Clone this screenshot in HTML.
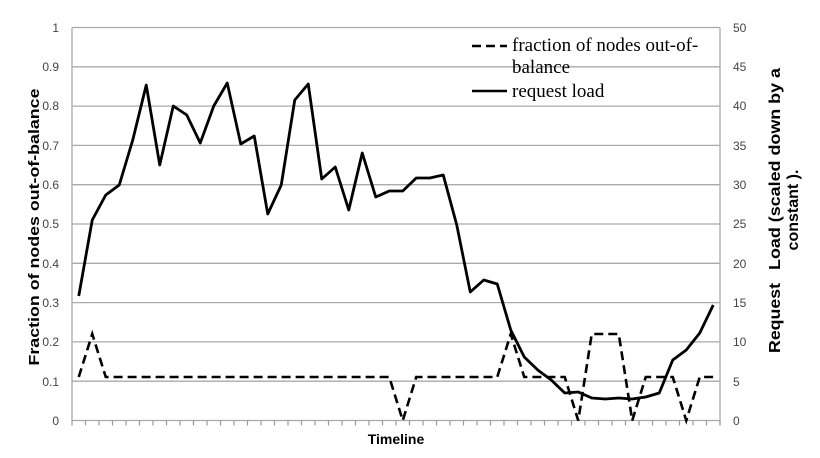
<!DOCTYPE html>
<html><head><meta charset="utf-8"><style>body{margin:0;background:#fff}</style></head><body>
<svg width="820" height="453" xmlns="http://www.w3.org/2000/svg" font-family="Liberation Sans, sans-serif">
<rect width="820" height="453" fill="#fff"/>
<g stroke="#aaa" stroke-width="1.3">
<line x1="72" y1="27.5" x2="720" y2="27.5"/><line x1="72" y1="66.8" x2="720" y2="66.8"/><line x1="72" y1="106.1" x2="720" y2="106.1"/><line x1="72" y1="145.4" x2="720" y2="145.4"/><line x1="72" y1="184.7" x2="720" y2="184.7"/><line x1="72" y1="224" x2="720" y2="224"/><line x1="72" y1="263.3" x2="720" y2="263.3"/><line x1="72" y1="302.6" x2="720" y2="302.6"/><line x1="72" y1="341.9" x2="720" y2="341.9"/><line x1="72" y1="381.2" x2="720" y2="381.2"/>
<line x1="72" y1="27.5" x2="72" y2="421"/><line x1="720" y1="27.5" x2="720" y2="425"/><line x1="72" y1="420.5" x2="720" y2="420.5"/>
</g>
<path stroke="#999" stroke-width="1.2" fill="none" d="M72 420.5v5M85.5 420.5v5M99 420.5v5M112.5 420.5v5M126 420.5v5M139.5 420.5v5M153 420.5v5M166.5 420.5v5M180 420.5v5M193.5 420.5v5M207 420.5v5M220.5 420.5v5M234 420.5v5M247.5 420.5v5M261 420.5v5M274.5 420.5v5M288 420.5v5M301.5 420.5v5M315 420.5v5M328.5 420.5v5M342 420.5v5M355.5 420.5v5M369 420.5v5M382.5 420.5v5M396 420.5v5M409.5 420.5v5M423 420.5v5M436.5 420.5v5M450 420.5v5M463.5 420.5v5M477 420.5v5M490.5 420.5v5M504 420.5v5M517.5 420.5v5M531 420.5v5M544.5 420.5v5M558 420.5v5M571.5 420.5v5M585 420.5v5M598.5 420.5v5M612 420.5v5M625.5 420.5v5M639 420.5v5M652.5 420.5v5M666 420.5v5M679.5 420.5v5M693 420.5v5M706.5 420.5v5M720 420.5v5"/>
<g fill="#444" font-size="12" text-anchor="end">
<text x="59" y="32">1</text><text x="59" y="71">0.9</text><text x="59" y="110">0.8</text><text x="59" y="150">0.7</text><text x="59" y="189">0.6</text><text x="59" y="228">0.5</text><text x="59" y="268">0.4</text><text x="59" y="307">0.3</text><text x="59" y="346">0.2</text><text x="59" y="386">0.1</text><text x="59" y="425">0</text>
</g>
<g fill="#444" font-size="12">
<text x="733" y="32">50</text><text x="733" y="71">45</text><text x="733" y="110">40</text><text x="733" y="150">35</text><text x="733" y="189">30</text><text x="733" y="228">25</text><text x="733" y="268">20</text><text x="733" y="307">15</text><text x="733" y="346">10</text><text x="733" y="386">5</text><text x="733" y="425">0</text>
</g>
<text transform="translate(39,227) rotate(-90)" text-anchor="middle" font-size="15" font-weight="bold" textLength="277" lengthAdjust="spacingAndGlyphs">Fraction of nodes out-of-balance</text>
<text transform="translate(780,353) rotate(-90)" font-size="16" font-weight="bold" textLength="70" lengthAdjust="spacingAndGlyphs">Request</text>
<text transform="translate(780,270) rotate(-90)" font-size="16" font-weight="bold" textLength="202" lengthAdjust="spacingAndGlyphs">Load (scaled down by a</text>
<text transform="translate(798,210) rotate(-90)" text-anchor="middle" font-size="16" font-weight="bold">constant ).</text>
<text x="396" y="444" text-anchor="middle" font-size="14" font-weight="bold">Timeline</text>
<g font-family="Liberation Serif, serif" font-size="19">
<text x="512" y="51">fraction of nodes out-of-</text><text x="512" y="73">balance</text><text x="512" y="97">request load</text>
</g>
<line x1="472" y1="46" x2="507" y2="46" stroke="#000" stroke-width="2.5" stroke-dasharray="9,5"/>
<line x1="472" y1="91" x2="507" y2="91" stroke="#000" stroke-width="2.5"/>
<polyline fill="none" stroke="#000" stroke-width="2.8" stroke-linejoin="round" points="78.75,296 92.25,220 105.75,195 119.25,185 132.75,140 146.25,85 159.75,165 173.25,106 186.75,115 200.25,143 213.75,106 227.25,83 240.75,144 254.25,136 267.75,214 281.25,185 294.75,100 308.25,84 321.75,179 335.25,167 348.75,210 362.25,153 375.75,197 389.25,191 402.75,191 416.25,178 429.75,178 443.25,175 456.75,225 470.25,292 483.75,280 497.25,284 510.75,330 524.25,357 537.75,370 551.25,380 564.75,393 578.25,392 591.75,398 605.25,399 618.75,398 632.25,399 645.75,397 659.25,393 672.75,360 686.25,350 699.75,333 713.25,305"/>
<polyline fill="none" stroke="#000" stroke-width="2.6" stroke-dasharray="9,5" points="78.75,377 92.25,334 105.75,377 389.25,377 402.75,420.5 416.25,377 497.25,377 510.75,334 524.25,377 564.75,377 578.25,420.5 591.75,334 618.75,334 632.25,420.5 645.75,377 672.75,377 686.25,420.5 699.75,377 713.25,377"/>
</svg>
</body></html>
